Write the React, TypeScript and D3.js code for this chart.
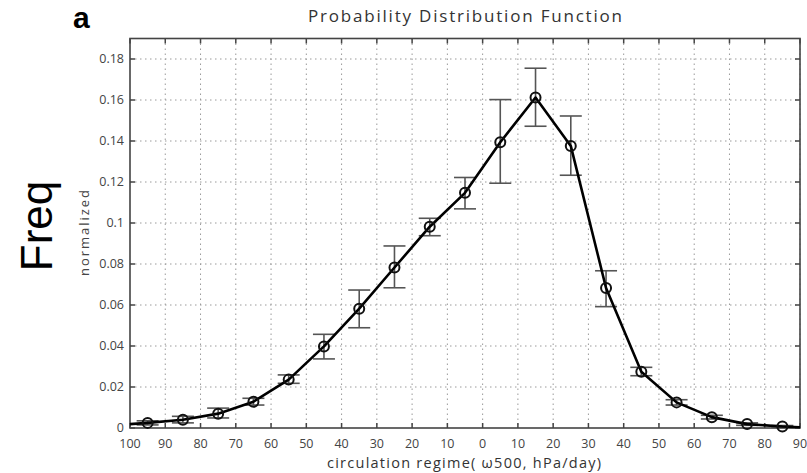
import React from "react";
import * as d3 from "d3";

// ---- data ----
const binCenters = [-95, -85, -75, -65, -55, -45, -35, -25, -15, -5, 5, 15, 25, 35, 45, 55, 65, 75, 85];
const pdfValues = [0.0025, 0.004, 0.007, 0.0128, 0.0236, 0.0398, 0.0582, 0.0783, 0.0982, 0.1147, 0.1394, 0.1612, 0.1376, 0.0683, 0.0274, 0.0125, 0.0053, 0.0019, 0.0007];
const errHigh = [0.0035, 0.0057, 0.0097, 0.0145, 0.0259, 0.0457, 0.0673, 0.0888, 0.1023, 0.1222, 0.1602, 0.1755, 0.1522, 0.0767, 0.0296, 0.0138, 0.0062, 0.0025, 0.0012];
const errLow = [0.0015, 0.0025, 0.0049, 0.0112, 0.0218, 0.0337, 0.0489, 0.0684, 0.0938, 0.1069, 0.1194, 0.1472, 0.1233, 0.0592, 0.0255, 0.0112, 0.0044, 0.0013, 0.0003];
const edgeX = [-100, 90];
const edgeY = [0.0019, 0.0004];
const xTicks = [-100, -90, -80, -70, -60, -50, -40, -30, -20, -10, 0, 10, 20, 30, 40, 50, 60, 70, 80, 90];
const yTicks = [0, 0.02, 0.04, 0.06, 0.08, 0.1, 0.12, 0.14, 0.16, 0.18];
const title = "Probability Distribution Function";
const xLabel = "circulation regime( \u03c9500, hPa/day)";
const yLabel = "normalized";
const outerLabel = "Freq";
const panelLabel = "a";

export default function App() {
  const W = 807, H = 473;
  const left = 130, right = 800, top = 38.5, bottom = 428;
  const x = d3.scaleLinear().domain([-100, 90]).range([left, right]);
  const y = d3.scaleLinear().domain([0, 0.19]).range([bottom, top]);

  const pts: [number, number][] = binCenters.map((c, i) => [c, pdfValues[i]]);
  const linePts: [number, number][] = [[edgeX[0], edgeY[0]], ...pts, [edgeX[1], edgeY[1]]];
  const line = d3.line<[number, number]>().x(d => x(d[0])).y(d => y(d[1]));

  const tickFmt = (v: number) => String(Math.abs(v));
  const yFmt = (v: number) => (v === 0 ? "0" : String(+v.toFixed(2)));
  const font = "'Open Sans', 'Liberation Sans', sans-serif";
  const tickColor = "#444";
  const cap = 11;

  return (
    <svg width={W} height={H} style={{ position: "absolute", left: 0, top: 0, background: "#fff" }}>
      <rect x={0} y={0} width={W} height={H} fill="#fff" />
      {/* grid */}
      <g stroke="#9a9a9a" strokeWidth={1} strokeDasharray="1.5,3.5">
        {xTicks.slice(1).map(t => (
          <line key={"gx" + t} x1={x(t)} x2={x(t)} y1={top} y2={bottom} />
        ))}
        {yTicks.slice(1).map(t => (
          <line key={"gy" + t} x1={left} x2={right} y1={y(t)} y2={y(t)} />
        ))}
      </g>
      {/* ticks */}
      <g stroke="#444" strokeWidth={1.5}>
        {xTicks.map(t => (
          <g key={"tx" + t}>
            <line x1={x(t)} x2={x(t)} y1={bottom} y2={bottom - 5} />
            <line x1={x(t)} x2={x(t)} y1={top} y2={top + 5} />
          </g>
        ))}
        {yTicks.map(t => (
          <g key={"ty" + t}>
            <line x1={left} x2={left + 5} y1={y(t)} y2={y(t)} />
            <line x1={right} x2={right - 5} y1={y(t)} y2={y(t)} />
          </g>
        ))}
      </g>
      {/* frame */}
      <rect x={left} y={top} width={right - left} height={bottom - top} fill="none" stroke="#444" strokeWidth={1.6} />
      {/* tick labels */}
      <g fontFamily={font} fontSize={12.5} fill={tickColor}>
        {xTicks.map(t => (
          <text key={"lx" + t} x={x(t)} y={447.5} textAnchor="middle">{tickFmt(t)}</text>
        ))}
        {yTicks.map(t => (
          <text key={"ly" + t} x={124} y={y(t) + 4} textAnchor="end">{yFmt(t)}</text>
        ))}
      </g>
      {/* error bars */}
      <g stroke="#555" strokeWidth={1.6} fill="none">
        {binCenters.map((c, i) => (
          <g key={"e" + c}>
            <line x1={x(c)} x2={x(c)} y1={y(errLow[i])} y2={y(errHigh[i])} />
            <line x1={x(c) - cap} x2={x(c) + cap} y1={y(errLow[i])} y2={y(errLow[i])} />
            <line x1={x(c) - cap} x2={x(c) + cap} y1={y(errHigh[i])} y2={y(errHigh[i])} />
          </g>
        ))}
      </g>
      {/* line */}
      <path d={line(linePts) || ""} fill="none" stroke="#000" strokeWidth={2.6} strokeLinejoin="round" />
      {/* markers */}
      <g fill="none" stroke="#111" strokeWidth={2}>
        {pts.map(p => (
          <circle key={"m" + p[0]} cx={x(p[0])} cy={y(p[1])} r={5} />
        ))}
      </g>
      {/* titles */}
      <text x={465} y={22} textAnchor="middle" fontFamily={font} fontSize={17} fill="#333" textLength={314} lengthAdjust="spacing">{title}</text>
      <text x={464} y={467.5} textAnchor="middle" fontFamily={font} fontSize={14.5} fill="#333" textLength={274} lengthAdjust="spacing">{xLabel}</text>
      <text transform={`translate(89,233) rotate(-90)`} textAnchor="middle" fontFamily={font} fontSize={13} fill="#444" textLength={86} lengthAdjust="spacing">{yLabel}</text>
      <text transform={`translate(52,226) rotate(-90)`} textAnchor="middle" fontFamily="'Liberation Sans', Arial, sans-serif" fontSize={44} fill="#000">{outerLabel}</text>
      <text x={73} y={28} fontFamily="'Liberation Sans', Arial, sans-serif" fontWeight="bold" fontSize={30} fill="#000">{panelLabel}</text>
    </svg>
  );
}
